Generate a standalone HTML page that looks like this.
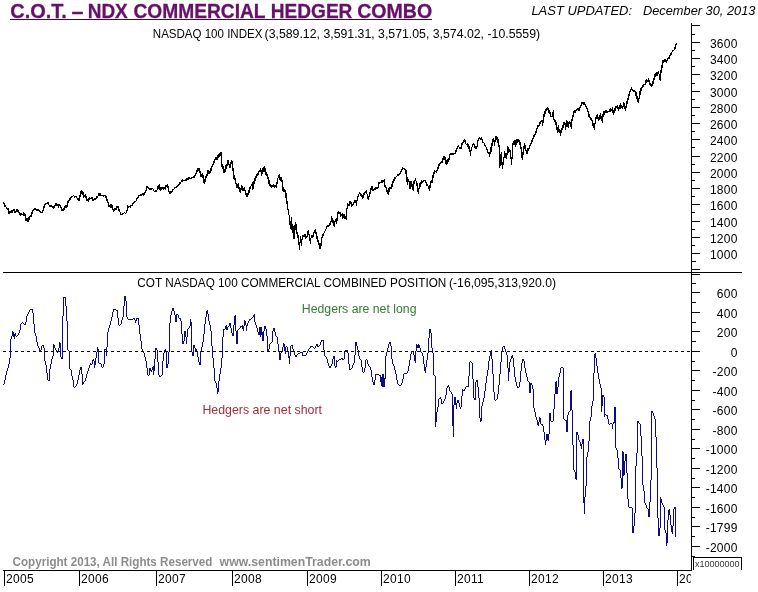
<!DOCTYPE html>
<html><head><meta charset="utf-8"><title>C.O.T. – NDX Commercial Hedger Combo</title>
<style>html,body{margin:0;padding:0;background:#fff;} body{width:758px;height:592px;overflow:hidden;} svg{display:block;}</style>
</head><body>
<svg width="758" height="592" viewBox="0 0 758 592"><rect x="0" y="0" width="758" height="592" fill="#ffffff"/>
<text x="10.3" y="17.6" font-family="Liberation Sans, Arial, sans-serif" font-size="19.6" font-weight="bold" fill="#67106a" stroke="#67106a" stroke-width="0.3" lengthAdjust="spacingAndGlyphs" textLength="56.5">C.O.T.</text>
<text x="71.5" y="17.6" font-family="Liberation Sans, Arial, sans-serif" font-size="19.6" font-weight="bold" fill="#67106a" stroke="#67106a" stroke-width="0.3" lengthAdjust="spacingAndGlyphs" textLength="12.0">–</text>
<text x="87.7" y="17.6" font-family="Liberation Sans, Arial, sans-serif" font-size="19.6" font-weight="bold" fill="#67106a" stroke="#67106a" stroke-width="0.3" lengthAdjust="spacingAndGlyphs" textLength="40.1">NDX</text>
<text x="133.4" y="17.6" font-family="Liberation Sans, Arial, sans-serif" font-size="19.6" font-weight="bold" fill="#67106a" stroke="#67106a" stroke-width="0.3" lengthAdjust="spacingAndGlyphs" textLength="132.2">COMMERCIAL</text>
<text x="270.8" y="17.6" font-family="Liberation Sans, Arial, sans-serif" font-size="19.6" font-weight="bold" fill="#67106a" stroke="#67106a" stroke-width="0.3" lengthAdjust="spacingAndGlyphs" textLength="81.6">HEDGER</text>
<text x="357.2" y="17.6" font-family="Liberation Sans, Arial, sans-serif" font-size="19.6" font-weight="bold" fill="#67106a" stroke="#67106a" stroke-width="0.3" lengthAdjust="spacingAndGlyphs" textLength="75.0">COMBO</text>
<rect x="10" y="19" width="422" height="1" fill="#3e0a3e"/>
<text x="531.4" y="15.4" font-family="Liberation Sans, Arial, sans-serif" font-size="13" font-style="italic" fill="#000" textLength="100.6" lengthAdjust="spacingAndGlyphs">LAST UPDATED:</text>
<text x="643.0" y="15.4" font-family="Liberation Sans, Arial, sans-serif" font-size="13" font-style="italic" fill="#000" textLength="112.4" lengthAdjust="spacingAndGlyphs">December 30, 2013</text>
<text x="152.8" y="37.7" font-family="Liberation Sans, Arial, sans-serif" font-size="12" fill="#000" textLength="109.6" lengthAdjust="spacingAndGlyphs">NASDAQ 100 INDEX</text>
<text x="264.6" y="37.7" font-family="Liberation Sans, Arial, sans-serif" font-size="12" fill="#000" textLength="275.5" lengthAdjust="spacingAndGlyphs">(3,589.12, 3,591.31, 3,571.05, 3,574.02, -10.5559)</text>
<g stroke="#000" stroke-width="1" shape-rendering="crispEdges"><line x1="691.5" y1="23" x2="691.5" y2="571" /><line x1="3" y1="272.5" x2="742" y2="272.5" /><line x1="3" y1="570.5" x2="692" y2="570.5" /><line x1="691" y1="25.5" x2="700" y2="25.5" /><line x1="691" y1="34.5" x2="695" y2="34.5" /><line x1="691" y1="42.5" x2="700" y2="42.5" /><line x1="691" y1="50.5" x2="695" y2="50.5" /><line x1="691" y1="58.5" x2="700" y2="58.5" /><line x1="691" y1="66.5" x2="695" y2="66.5" /><line x1="691" y1="74.5" x2="700" y2="74.5" /><line x1="691" y1="83.5" x2="695" y2="83.5" /><line x1="691" y1="91.5" x2="700" y2="91.5" /><line x1="691" y1="99.5" x2="695" y2="99.5" /><line x1="691" y1="107.5" x2="700" y2="107.5" /><line x1="691" y1="115.5" x2="695" y2="115.5" /><line x1="691" y1="123.5" x2="700" y2="123.5" /><line x1="691" y1="131.5" x2="695" y2="131.5" /><line x1="691" y1="139.5" x2="700" y2="139.5" /><line x1="691" y1="147.5" x2="695" y2="147.5" /><line x1="691" y1="156.5" x2="700" y2="156.5" /><line x1="691" y1="164.5" x2="695" y2="164.5" /><line x1="691" y1="172.5" x2="700" y2="172.5" /><line x1="691" y1="180.5" x2="695" y2="180.5" /><line x1="691" y1="188.5" x2="700" y2="188.5" /><line x1="691" y1="196.5" x2="695" y2="196.5" /><line x1="691" y1="204.5" x2="700" y2="204.5" /><line x1="691" y1="212.5" x2="695" y2="212.5" /><line x1="691" y1="221.5" x2="700" y2="221.5" /><line x1="691" y1="229.5" x2="695" y2="229.5" /><line x1="691" y1="237.5" x2="700" y2="237.5" /><line x1="691" y1="245.5" x2="695" y2="245.5" /><line x1="691" y1="253.5" x2="700" y2="253.5" /><line x1="691" y1="261.5" x2="696" y2="261.5" /><line x1="691" y1="269.5" x2="700" y2="269.5" /><line x1="691" y1="274.5" x2="700" y2="274.5" /><line x1="691" y1="283.5" x2="696" y2="283.5" /><line x1="691" y1="292.5" x2="700" y2="292.5" /><line x1="691" y1="302.5" x2="696" y2="302.5" /><line x1="691" y1="312.5" x2="700" y2="312.5" /><line x1="691" y1="322.5" x2="696" y2="322.5" /><line x1="691" y1="331.5" x2="700" y2="331.5" /><line x1="691" y1="341.5" x2="696" y2="341.5" /><line x1="691" y1="351.5" x2="700" y2="351.5" /><line x1="691" y1="361.5" x2="695" y2="361.5" /><line x1="691" y1="370.5" x2="700" y2="370.5" /><line x1="691" y1="380.5" x2="695" y2="380.5" /><line x1="691" y1="390.5" x2="700" y2="390.5" /><line x1="691" y1="400.5" x2="695" y2="400.5" /><line x1="691" y1="409.5" x2="700" y2="409.5" /><line x1="691" y1="419.5" x2="695" y2="419.5" /><line x1="691" y1="429.5" x2="700" y2="429.5" /><line x1="691" y1="439.5" x2="695" y2="439.5" /><line x1="691" y1="448.5" x2="700" y2="448.5" /><line x1="691" y1="458.5" x2="695" y2="458.5" /><line x1="691" y1="468.5" x2="700" y2="468.5" /><line x1="691" y1="478.5" x2="695" y2="478.5" /><line x1="691" y1="487.5" x2="700" y2="487.5" /><line x1="691" y1="497.5" x2="695" y2="497.5" /><line x1="691" y1="507.5" x2="700" y2="507.5" /><line x1="691" y1="517.5" x2="695" y2="517.5" /><line x1="691" y1="526.5" x2="700" y2="526.5" /><line x1="691" y1="536.5" x2="695" y2="536.5" /><line x1="691" y1="546.5" x2="700" y2="546.5" /><line x1="691" y1="556.5" x2="695" y2="556.5" /><line x1="4.5" y1="570" x2="4.5" y2="586" /><line x1="79.5" y1="570" x2="79.5" y2="586" /><line x1="156.5" y1="570" x2="156.5" y2="586" /><line x1="232.5" y1="570" x2="232.5" y2="586" /><line x1="307.5" y1="570" x2="307.5" y2="586" /><line x1="381.5" y1="570" x2="381.5" y2="586" /><line x1="455.5" y1="570" x2="455.5" y2="586" /><line x1="529.5" y1="570" x2="529.5" y2="586" /><line x1="603.5" y1="570" x2="603.5" y2="586" /><line x1="677.5" y1="570" x2="677.5" y2="586" /><polyline points="693.5,570 693.5,557.5 741.5,557.5 741.5,570" fill="none"/></g>
<g font-family="Liberation Sans, Arial, sans-serif" font-size="12" fill="#000" text-anchor="end" letter-spacing="0.25"><text x="737.6" y="47.8">3600</text><text x="737.6" y="63.8">3400</text><text x="737.6" y="79.8">3200</text><text x="737.6" y="96.8">3000</text><text x="737.6" y="112.8">2800</text><text x="737.6" y="128.8">2600</text><text x="737.6" y="144.8">2400</text><text x="737.6" y="161.8">2200</text><text x="737.6" y="177.8">2000</text><text x="737.6" y="193.8">1800</text><text x="737.6" y="209.8">1600</text><text x="737.6" y="226.8">1400</text><text x="737.6" y="242.8">1200</text><text x="737.6" y="258.8">1000</text><text x="737.6" y="297.8">600</text><text x="737.6" y="317.8">400</text><text x="737.6" y="336.8">200</text><text x="737.6" y="356.8">0</text><text x="737.6" y="375.8">-200</text><text x="737.6" y="395.8">-400</text><text x="737.6" y="414.8">-600</text><text x="737.6" y="434.8">-800</text><text x="737.6" y="453.8">-1000</text><text x="737.6" y="473.8">-1200</text><text x="737.6" y="492.8">-1400</text><text x="737.6" y="512.8">-1600</text><text x="737.6" y="531.8">-1799</text><text x="737.6" y="551.8">-2000</text></g>
<svg x="0" y="560" width="691" height="32" overflow="hidden"><g transform="translate(0,-560)" font-family="Liberation Sans, Arial, sans-serif" font-size="12" fill="#000" letter-spacing="0.33"><text x="5.9" y="582.8">2005</text><text x="80.9" y="582.8">2006</text><text x="157.9" y="582.8">2007</text><text x="233.9" y="582.8">2008</text><text x="308.9" y="582.8">2009</text><text x="382.9" y="582.8">2010</text><text x="456.9" y="582.8">2011</text><text x="530.9" y="582.8">2012</text><text x="604.9" y="582.8">2013</text><text x="678.9" y="582.8">2014</text></g></svg>
<text x="695" y="566.5" font-family="Liberation Sans, Arial, sans-serif" font-size="9" fill="#333">x10000000</text>
<text x="137.3" y="287" font-family="Liberation Sans, Arial, sans-serif" font-size="12" fill="#000" textLength="309.0" lengthAdjust="spacingAndGlyphs">COT NASDAQ 100 COMMERCIAL COMBINED POSITION</text>
<text x="449.0" y="287" font-family="Liberation Sans, Arial, sans-serif" font-size="12" fill="#000" textLength="107.0" lengthAdjust="spacingAndGlyphs">(-16,095,313,920.0)</text>
<text x="301.8" y="312.6" font-family="Liberation Sans, Arial, sans-serif" font-size="12" fill="#337a37" textLength="114.7" lengthAdjust="spacingAndGlyphs">Hedgers are net long</text>
<text x="202.4" y="413.9" font-family="Liberation Sans, Arial, sans-serif" font-size="12" fill="#a32c38" textLength="119.6" lengthAdjust="spacingAndGlyphs">Hedgers are net short</text>
<text x="12.6" y="565.8" font-family="Liberation Sans, Arial, sans-serif" font-size="12" font-weight="bold" fill="#8c8c8c" textLength="199.8" lengthAdjust="spacingAndGlyphs">Copyright 2013, All Rights Reserved</text>
<text x="219.6" y="565.8" font-family="Liberation Sans, Arial, sans-serif" font-size="12" font-weight="bold" fill="#8c8c8c" textLength="151.2" lengthAdjust="spacingAndGlyphs">www.sentimenTrader.com</text>
<line x1="3" y1="351.5" x2="691" y2="351.5" stroke="#000" stroke-width="1" stroke-dasharray="3,3" shape-rendering="crispEdges"/>
<path d="M3.5,202V204M4.5,203V207M5.5,205V207M6.5,207V209M7.5,208V210M8.5,208V214M9.5,211V214M10.5,211V213M11.5,210V213M12.5,210V213M13.5,209V211M14.5,209V213M15.5,211V213M16.5,209V212M17.5,209V212M18.5,210V213M19.5,212V215M20.5,213V216M21.5,213V215M22.5,214V215M23.5,212V216M24.5,213V216M25.5,214V221M26.5,218V221M27.5,218V222M28.5,217V222M29.5,216V220M30.5,215V217M31.5,212V217M32.5,210V214M33.5,209V211M34.5,208V210M35.5,208V210M36.5,209V211M37.5,209V211M38.5,209V211M39.5,210V212M40.5,211V213M41.5,212V213M42.5,210V213M43.5,206V211M44.5,204V208M45.5,203V205M46.5,203V204M47.5,202V204M48.5,202V205M49.5,205V207M50.5,205V207M51.5,205V207M52.5,206V208M53.5,206V209M54.5,205V208M55.5,203V206M56.5,203V206M57.5,204V206M58.5,204V208M59.5,204V206M60.5,205V208M61.5,207V211M62.5,209V211M63.5,208V211M64.5,206V210M65.5,205V208M66.5,205V208M67.5,201V207M68.5,200V203M69.5,198V201M70.5,197V200M71.5,196V198M72.5,196V197M73.5,195V196M74.5,196V198M75.5,196V197M76.5,196V198M77.5,198V200M78.5,198V201M79.5,195V201M80.5,191V197M81.5,190V194M82.5,191V195M83.5,192V198M84.5,195V197M85.5,194V198M86.5,196V201M87.5,199V201M88.5,198V202M89.5,197V200M90.5,198V199M91.5,197V199M92.5,197V201M93.5,199V201M94.5,198V200M95.5,198V200M96.5,196V199M97.5,196V198M98.5,193V196M99.5,193V196M100.5,193V196M101.5,195V196M102.5,195V196M103.5,195V197M104.5,195V196M105.5,195V198M106.5,196V201M107.5,199V203M108.5,202V207M109.5,205V207M110.5,204V208M111.5,204V208M112.5,205V210M113.5,209V212M114.5,208V211M115.5,208V210M116.5,206V210M117.5,206V208M118.5,206V211M119.5,209V212M120.5,212V215M121.5,214V215M122.5,213V215M123.5,213V214M124.5,212V213M125.5,213V214M126.5,210V213M127.5,205V211M128.5,206V208M129.5,206V207M130.5,205V208M131.5,205V206M132.5,203V206M133.5,202V204M134.5,201V203M135.5,201V202M136.5,198V201M137.5,197V199M138.5,195V198M139.5,195V196M140.5,194V196M141.5,194V196M142.5,193V195M143.5,193V196M144.5,192V195M145.5,190V193M146.5,186V191M147.5,186V188M148.5,187V189M149.5,188V190M150.5,188V190M151.5,188V190M152.5,188V189M153.5,189V191M154.5,191V192M155.5,190V192M156.5,190V192M157.5,186V190M158.5,185V189M159.5,184V190M160.5,187V191M161.5,187V190M162.5,187V189M163.5,187V190M164.5,187V189M165.5,185V190M166.5,185V187M167.5,184V188M168.5,186V192M169.5,191V194M170.5,191V194M171.5,191V193M172.5,189V192M173.5,189V190M174.5,187V189M175.5,187V188M176.5,186V188M177.5,185V187M178.5,184V186M179.5,182V185M180.5,182V184M181.5,180V182M182.5,179V182M183.5,180V181M184.5,180V181M185.5,179V181M186.5,178V181M187.5,178V180M188.5,177V180M189.5,177V179M190.5,178V179M191.5,177V179M192.5,177V178M193.5,176V178M194.5,175V178M195.5,173V176M196.5,170V174M197.5,168V172M198.5,168V171M199.5,168V173M200.5,171V177M201.5,174V177M202.5,173V178M203.5,175V183M204.5,179V184M205.5,176V182M206.5,174V178M207.5,170V176M208.5,170V174M209.5,171V174M210.5,168V173M211.5,166V171M212.5,164V167M213.5,161V165M214.5,159V163M215.5,157V160M216.5,157V160M217.5,155V160M218.5,154V158M219.5,153V157M220.5,152V156M221.5,152V167M222.5,164V169M223.5,166V173M224.5,169V173M225.5,165V172M226.5,164V169M227.5,160V166M228.5,160V165M229.5,164V168M230.5,162V168M231.5,160V164M232.5,161V171M233.5,168V179M234.5,175V180M235.5,178V184M236.5,183V188M237.5,184V188M238.5,183V189M239.5,187V192M240.5,188V193M241.5,185V190M242.5,186V191M243.5,188V191M244.5,187V191M245.5,190V195M246.5,193V197M247.5,193V197M248.5,190V195M249.5,187V193M250.5,186V189M251.5,184V186M252.5,182V190M253.5,181V189M254.5,178V184M255.5,176V181M256.5,174V178M257.5,173V176M258.5,171V175M259.5,170V172M260.5,168V172M261.5,170V176M262.5,168V174M263.5,167V172M264.5,166V172M265.5,168V175M266.5,172V176M267.5,174V179M268.5,177V184M269.5,180V186M270.5,184V187M271.5,185V188M272.5,185V187M273.5,184V187M274.5,185V188M275.5,185V187M276.5,182V188M277.5,178V184M278.5,175V178M279.5,174V180M280.5,177V181M281.5,177V182M282.5,180V191M283.5,187V192M284.5,189V192M285.5,190V198M286.5,193V204M287.5,201V210M288.5,209V215M289.5,215V225M290.5,221V229M291.5,217V230M292.5,224V233M293.5,226V239M294.5,225V239M295.5,222V230M296.5,224V234M297.5,232V238M298.5,235V245M299.5,242V250M300.5,236V243M301.5,239V246M302.5,235V240M303.5,235V237M304.5,234V237M305.5,234V239M306.5,236V238M307.5,231V237M308.5,230V235M309.5,234V241M310.5,238V244M311.5,235V238M312.5,235V238M313.5,232V237M314.5,230V233M315.5,229V234M316.5,232V239M317.5,236V242M318.5,240V245M319.5,243V249M320.5,243V249M321.5,237V246M322.5,234V238M323.5,233V236M324.5,231V233M325.5,229V231M326.5,226V229M327.5,225V227M328.5,225V227M329.5,223V226M330.5,221V225M331.5,216V222M332.5,218V223M333.5,220V226M334.5,221V227M335.5,219V222M336.5,218V224M337.5,212V221M338.5,211V214M339.5,212V214M340.5,212V217M341.5,214V216M342.5,213V219M343.5,214V218M344.5,214V219M345.5,216V219M346.5,208V220M347.5,203V209M348.5,204V206M349.5,201V206M350.5,201V204M351.5,202V207M352.5,204V206M353.5,202V205M354.5,200V203M355.5,200V203M356.5,200V206M357.5,196V201M358.5,194V197M359.5,192V194M360.5,193V196M361.5,194V197M362.5,195V199M363.5,193V198M364.5,192V195M365.5,191V193M366.5,190V194M367.5,194V199M368.5,196V200M369.5,192V197M370.5,188V194M371.5,186V190M372.5,186V191M373.5,189V191M374.5,188V190M375.5,187V190M376.5,187V189M377.5,187V189M378.5,182V188M379.5,182V184M380.5,182V183M381.5,180V183M382.5,180V183M383.5,180V182M384.5,179V187M385.5,185V188M386.5,187V192M387.5,190V194M388.5,188V195M389.5,187V192M390.5,187V189M391.5,184V189M392.5,181V187M393.5,179V183M394.5,177V181M395.5,177V179M396.5,176V177M397.5,174V176M398.5,174V176M399.5,173V175M400.5,171V174M401.5,169V172M402.5,167V170M403.5,168V169M404.5,168V170M405.5,169V174M406.5,170V182M407.5,177V185M408.5,179V182M409.5,181V189M410.5,181V189M411.5,181V187M412.5,184V190M413.5,181V191M414.5,180V184M415.5,178V181M416.5,181V186M417.5,183V192M418.5,188V194M419.5,183V189M420.5,182V187M421.5,180V184M422.5,181V183M423.5,180V182M424.5,180V181M425.5,180V183M426.5,182V186M427.5,184V186M428.5,186V189M429.5,185V191M430.5,181V188M431.5,180V183M432.5,175V183M433.5,172V178M434.5,170V174M435.5,171V172M436.5,170V173M437.5,167V171M438.5,164V169M439.5,163V166M440.5,162V164M441.5,161V163M442.5,158V163M443.5,156V160M444.5,156V160M445.5,157V164M446.5,160V165M447.5,159V164M448.5,158V162M449.5,154V160M450.5,153V155M451.5,153V155M452.5,153V155M453.5,153V155M454.5,153V154M455.5,150V154M456.5,148V152M457.5,146V149M458.5,145V147M459.5,147V149M460.5,147V149M461.5,143V149M462.5,142V145M463.5,140V143M464.5,139V142M465.5,140V144M466.5,144V145M467.5,143V147M468.5,144V149M469.5,146V152M470.5,150V156M471.5,147V151M472.5,144V147M473.5,143V145M474.5,144V148M475.5,146V149M476.5,146V149M477.5,140V147M478.5,138V141M479.5,137V139M480.5,138V140M481.5,137V140M482.5,139V143M483.5,142V143M484.5,143V146M485.5,145V147M486.5,147V150M487.5,149V153M488.5,152V154M489.5,152V157M490.5,147V154M491.5,143V152M492.5,139V146M493.5,138V142M494.5,140V146M495.5,136V142M496.5,136V140M497.5,137V143M498.5,139V147M499.5,145V168M500.5,154V166M501.5,152V165M502.5,162V169M503.5,157V165M504.5,151V158M505.5,153V158M506.5,153V159M507.5,146V155M508.5,147V153M509.5,149V152M510.5,150V159M511.5,157V165M512.5,143V159M513.5,141V145M514.5,140V145M515.5,140V147M516.5,139V145M517.5,139V143M518.5,139V142M519.5,140V145M520.5,142V149M521.5,147V158M522.5,152V160M523.5,146V155M524.5,143V149M525.5,145V151M526.5,150V154M527.5,148V154M528.5,148V151M529.5,145V149M530.5,143V146M531.5,140V144M532.5,138V142M533.5,135V139M534.5,134V137M535.5,131V135M536.5,128V133M537.5,125V129M538.5,125V127M539.5,122V126M540.5,121V124M541.5,120V122M542.5,120V126M543.5,114V123M544.5,111V117M545.5,109V114M546.5,108V111M547.5,107V110M548.5,108V113M549.5,110V114M550.5,112V117M551.5,116V117M552.5,112V117M553.5,110V120M554.5,119V122M555.5,120V125M556.5,122V130M557.5,127V133M558.5,125V132M559.5,129V133M560.5,130V136M561.5,128V133M562.5,125V130M563.5,122V128M564.5,122V125M565.5,123V130M566.5,120V127M567.5,121V127M568.5,122V128M569.5,121V124M570.5,122V127M571.5,119V129M572.5,115V121M573.5,111V117M574.5,110V113M575.5,110V113M576.5,109V111M577.5,108V110M578.5,108V111M579.5,107V111M580.5,105V108M581.5,102V106M582.5,102V104M583.5,102V105M584.5,102V105M585.5,104V107M586.5,106V109M587.5,108V112M588.5,111V117M589.5,114V118M590.5,117V120M591.5,118V121M592.5,120V126M593.5,123V128M594.5,123V130M595.5,117V124M596.5,115V119M597.5,114V119M598.5,117V121M599.5,115V120M600.5,113V119M601.5,116V121M602.5,114V123M603.5,111V117M604.5,111V115M605.5,110V113M606.5,110V113M607.5,111V113M608.5,111V112M609.5,109V112M610.5,108V112M611.5,109V111M612.5,107V113M613.5,110V115M614.5,108V113M615.5,106V111M616.5,106V108M617.5,105V109M618.5,107V111M619.5,105V109M620.5,103V109M621.5,105V108M622.5,106V109M623.5,102V107M624.5,103V109M625.5,106V111M626.5,101V108M627.5,98V104M628.5,94V100M629.5,91V96M630.5,89V92M631.5,87V90M632.5,89V91M633.5,90V92M634.5,90V92M635.5,91V96M636.5,92V99M637.5,96V102M638.5,98V103M639.5,91V99M640.5,88V95M641.5,87V91M642.5,85V88M643.5,84V87M644.5,84V85M645.5,80V85M646.5,79V83M647.5,80V82M648.5,78V82M649.5,80V85M650.5,83V86M651.5,84V87M652.5,81V86M653.5,78V84M654.5,74V80M655.5,73V77M656.5,72V76M657.5,72V76M658.5,71V74M659.5,74V80M660.5,70V81M661.5,65V73M662.5,60V68M663.5,60V63M664.5,59V62M665.5,59V62M666.5,60V63M667.5,58V61M668.5,57V59M669.5,55V59M670.5,53V56M671.5,52V55M672.5,50V52M673.5,50V51M674.5,47V50M675.5,44V49M676.5,43V45" fill="none" stroke="#000" stroke-width="1" shape-rendering="crispEdges"/>
<path d="M3.5,384V385M4.5,380V384M5.5,375V380M6.5,371V375M7.5,368V371M8.5,364V368M9.5,358V364M10.5,339V358M11.5,336V339M12.5,331V336M13.5,332V337M14.5,334V339M15.5,333V336M16.5,336V337M17.5,335V336M18.5,333V335M19.5,330V333M20.5,324V330M21.5,323V324M22.5,322V323M23.5,323V324M24.5,324V325M25.5,322V325M26.5,316V322M27.5,314V316M28.5,312V314M29.5,310V312M30.5,309V310M31.5,309V310M32.5,309V313M33.5,313V324M34.5,324V333M35.5,333V336M36.5,336V342M37.5,342V346M38.5,346V348M39.5,348V352M40.5,350V352M41.5,346V350M42.5,345V346M43.5,345V348M44.5,348V361M45.5,361V365M46.5,365V373M47.5,373V380M48.5,380V381M49.5,369V381M50.5,364V369M51.5,359V364M52.5,356V359M53.5,344V356M54.5,345V348M55.5,348V350M56.5,350V352M57.5,352V353M58.5,348V352M59.5,342V348M60.5,343V357M61.5,357V359M62.5,316V359M63.5,297V316M64.5,297V298M65.5,297V306M66.5,306V321M67.5,321V350M68.5,350V351M69.5,351V369M70.5,369V370M71.5,370V376M72.5,376V380M73.5,380V387M74.5,387V388M75.5,386V387M76.5,384V386M77.5,380V384M78.5,375V380M79.5,370V375M80.5,367V370M81.5,367V374M82.5,374V385M83.5,382V384M84.5,381V382M85.5,378V381M86.5,374V378M87.5,371V374M88.5,368V371M89.5,365V368M90.5,363V365M91.5,364V365M92.5,360V364M93.5,359V361M94.5,361V368M95.5,358V365M96.5,352V358M97.5,347V352M98.5,349V363M99.5,363V364M100.5,363V364M101.5,364V367M102.5,367V368M103.5,364V367M104.5,349V364M105.5,349V350M106.5,347V356M107.5,332V347M108.5,328V332M109.5,325V328M110.5,321V325M111.5,317V321M112.5,312V317M113.5,309V312M114.5,309V310M115.5,309V310M116.5,310V311M117.5,310V318M118.5,318V325M119.5,325V326M120.5,324V325M121.5,320V324M122.5,317V320M123.5,306V317M124.5,296V306M125.5,296V301M126.5,301V317M127.5,317V319M128.5,319V320M129.5,319V320M130.5,319V320M131.5,319V320M132.5,319V320M133.5,318V319M134.5,318V320M135.5,320V323M136.5,318V321M137.5,318V319M138.5,318V325M139.5,325V334M140.5,334V341M141.5,341V349M142.5,349V351M143.5,351V353M144.5,353V357M145.5,357V361M146.5,361V368M147.5,368V375M148.5,375V376M149.5,368V375M150.5,368V371M151.5,370V372M152.5,367V370M153.5,366V375M154.5,359V371M155.5,348V359M156.5,348V350M157.5,350V362M158.5,362V375M159.5,375V377M160.5,376V377M161.5,375V376M162.5,361V375M163.5,353V361M164.5,350V353M165.5,349V351M166.5,351V368M167.5,364V368M168.5,352V364M169.5,323V352M170.5,315V323M171.5,311V315M172.5,308V311M173.5,308V311M174.5,311V315M175.5,315V322M176.5,314V322M177.5,314V315M178.5,315V318M179.5,318V319M180.5,318V321M181.5,321V334M182.5,334V344M183.5,341V344M184.5,331V341M185.5,331V337M186.5,337V344M187.5,329V337M188.5,328V329M189.5,326V328M190.5,319V326M191.5,322V352M192.5,352V356M193.5,345V356M194.5,345V348M195.5,348V351M196.5,349V351M197.5,351V357M198.5,357V362M199.5,362V365M200.5,351V365M201.5,347V351M202.5,342V347M203.5,334V342M204.5,324V334M205.5,317V324M206.5,311V317M207.5,310V314M208.5,314V321M209.5,321V325M210.5,325V331M211.5,331V346M212.5,346V358M213.5,358V368M214.5,368V381M215.5,381V383M216.5,383V388M217.5,388V394M218.5,381V392M219.5,374V381M220.5,368V374M221.5,358V368M222.5,337V358M223.5,329V337M224.5,329V330M225.5,326V329M226.5,325V330M227.5,327V330M228.5,326V327M229.5,323V326M230.5,323V328M231.5,328V333M232.5,333V336M233.5,325V336M234.5,316V325M235.5,315V331M236.5,331V344M237.5,330V344M238.5,329V330M239.5,328V329M240.5,326V328M241.5,326V327M242.5,325V329M243.5,326V331M244.5,320V326M245.5,321V325M246.5,325V331M247.5,323V326M248.5,321V323M249.5,319V321M250.5,319V320M251.5,318V319M252.5,317V318M253.5,315V317M254.5,314V322M255.5,322V325M256.5,325V328M257.5,328V332M258.5,332V335M259.5,327V335M260.5,327V337M261.5,327V335M262.5,332V341M263.5,331V341M264.5,326V331M265.5,326V329M266.5,329V336M267.5,336V351M268.5,349V351M269.5,344V349M270.5,343V344M271.5,342V343M272.5,331V342M273.5,328V331M274.5,328V332M275.5,332V336M276.5,336V337M277.5,337V344M278.5,344V352M279.5,352V360M280.5,353V360M281.5,352V353M282.5,347V352M283.5,343V347M284.5,344V351M285.5,347V354M286.5,346V347M287.5,347V351M288.5,351V358M289.5,356V364M290.5,346V356M291.5,345V346M292.5,345V349M293.5,349V351M294.5,351V355M295.5,355V357M296.5,355V357M297.5,354V355M298.5,353V354M299.5,353V354M300.5,352V353M301.5,352V353M302.5,352V356M303.5,355V356M304.5,355V356M305.5,355V356M306.5,353V355M307.5,351V353M308.5,349V351M309.5,348V349M310.5,346V348M311.5,346V347M312.5,346V347M313.5,347V348M314.5,348V349M315.5,346V348M316.5,344V346M317.5,344V347M318.5,346V347M319.5,345V346M320.5,342V345M321.5,340V342M322.5,340V341M323.5,340V350M324.5,350V356M325.5,356V357M326.5,357V359M327.5,359V363M328.5,363V366M329.5,366V368M330.5,366V368M331.5,364V366M332.5,359V364M333.5,356V359M334.5,356V366M335.5,366V368M336.5,360V367M337.5,361V362M338.5,360V361M339.5,359V360M340.5,359V360M341.5,358V359M342.5,358V360M343.5,359V360M344.5,351V359M345.5,350V351M346.5,350V351M347.5,350V353M348.5,353V364M349.5,364V370M350.5,369V370M351.5,368V369M352.5,365V368M353.5,363V365M354.5,355V363M355.5,342V355M356.5,342V346M357.5,346V350M358.5,350V356M359.5,356V359M360.5,359V360M361.5,360V367M362.5,367V372M363.5,372V373M364.5,368V372M365.5,360V368M366.5,359V360M367.5,360V364M368.5,364V366M369.5,366V367M370.5,367V370M371.5,370V377M372.5,377V382M373.5,382V385M374.5,380V385M375.5,374V380M376.5,374V375M377.5,374V375M378.5,374V375M379.5,375V376M380.5,375V382M381.5,377V386M382.5,374V387M383.5,374V387M384.5,378V387M385.5,356V379M386.5,352V356M387.5,348V352M388.5,344V348M389.5,342V344M390.5,342V346M391.5,346V359M392.5,359V364M393.5,364V366M394.5,366V370M395.5,370V374M396.5,374V380M397.5,380V384M398.5,384V385M399.5,385V386M400.5,385V386M401.5,383V385M402.5,379V383M403.5,374V379M404.5,373V374M405.5,373V374M406.5,373V374M407.5,371V373M408.5,366V371M409.5,360V366M410.5,354V360M411.5,351V354M412.5,351V352M413.5,352V355M414.5,355V361M415.5,351V363M416.5,344V351M417.5,345V348M418.5,344V348M419.5,345V348M420.5,348V352M421.5,352V353M422.5,353V356M423.5,356V364M424.5,364V371M425.5,367V373M426.5,360V367M427.5,353V360M428.5,338V353M429.5,329V338M430.5,329V333M431.5,333V348M432.5,348V353M433.5,353V375M434.5,375V376M435.5,376V427M436.5,412V422M437.5,407V412M438.5,399V407M439.5,398V399M440.5,397V399M441.5,399V404M442.5,403V404M443.5,401V403M444.5,399V401M445.5,395V399M446.5,388V395M447.5,386V388M448.5,385V387M449.5,387V391M450.5,391V392M451.5,392V394M452.5,394V426M453.5,405V437M454.5,397V405M455.5,397V405M456.5,403V409M457.5,400V403M458.5,400V403M459.5,403V407M460.5,407V409M461.5,396V407M462.5,389V396M463.5,390V391M464.5,389V391M465.5,387V389M466.5,386V387M467.5,386V387M468.5,376V387M469.5,362V376M470.5,361V362M471.5,362V363M472.5,363V379M473.5,379V398M474.5,398V400M475.5,382V400M476.5,380V382M477.5,380V387M478.5,387V398M479.5,398V418M480.5,418V422M481.5,406V421M482.5,402V406M483.5,398V402M484.5,391V398M485.5,383V391M486.5,376V383M487.5,370V376M488.5,361V370M489.5,356V361M490.5,352V356M491.5,350V359M492.5,359V374M493.5,374V392M494.5,392V400M495.5,400V401M496.5,399V400M497.5,394V399M498.5,385V394M499.5,374V385M500.5,362V374M501.5,352V362M502.5,347V352M503.5,346V347M504.5,346V349M505.5,349V352M506.5,352V355M507.5,355V368M508.5,368V381M509.5,362V372M510.5,359V362M511.5,356V359M512.5,355V358M513.5,358V367M514.5,367V377M515.5,377V382M516.5,382V386M517.5,386V388M518.5,387V388M519.5,382V387M520.5,371V382M521.5,363V371M522.5,359V363M523.5,359V361M524.5,361V368M525.5,368V373M526.5,373V377M527.5,377V381M528.5,381V382M529.5,382V393M530.5,383V393M531.5,383V385M532.5,385V389M533.5,389V408M534.5,408V412M535.5,412V417M536.5,417V420M537.5,420V425M538.5,422V426M539.5,417V422M540.5,418V424M541.5,424V425M542.5,424V426M543.5,426V432M544.5,432V440M545.5,440V445M546.5,434V441M547.5,434V440M548.5,434V441M549.5,413V434M550.5,413V421M551.5,421V422M552.5,421V422M553.5,409V421M554.5,394V409M555.5,382V394M556.5,381V394M557.5,387V394M558.5,377V387M559.5,373V377M560.5,368V373M561.5,367V368M562.5,367V368M563.5,368V419M564.5,419V420M565.5,420V421M566.5,420V432M567.5,415V432M568.5,412V415M569.5,411V412M570.5,391V411M571.5,390V410M572.5,410V445M573.5,445V470M574.5,470V472M575.5,472V479M576.5,432V480M577.5,432V435M578.5,435V440M579.5,440V442M580.5,442V446M581.5,444V449M582.5,439V444M583.5,439V503M584.5,497V514M585.5,486V497M586.5,457V486M587.5,452V457M588.5,441V452M589.5,421V441M590.5,417V421M591.5,406V417M592.5,401V406M593.5,373V401M594.5,354V373M595.5,353V358M596.5,358V366M597.5,366V373M598.5,373V379M599.5,379V384M600.5,384V388M601.5,388V412M602.5,395V406M603.5,395V397M604.5,397V417M605.5,414V415M606.5,415V416M607.5,415V419M608.5,419V424M609.5,424V425M610.5,423V424M611.5,423V424M612.5,424V429M613.5,422V424M614.5,407V423M615.5,407V448M616.5,448V450M617.5,450V458M618.5,458V469M619.5,469V470M620.5,470V478M621.5,478V489M622.5,451V488M623.5,452V476M624.5,461V475M625.5,454V461M626.5,454V473M627.5,473V499M628.5,499V507M629.5,507V508M630.5,507V508M631.5,507V508M632.5,508V533M633.5,526V533M634.5,513V526M635.5,466V513M636.5,453V466M637.5,421V453M638.5,421V423M639.5,423V424M640.5,424V436M641.5,436V456M642.5,456V485M643.5,485V491M644.5,491V503M645.5,503V505M646.5,505V508M647.5,508V509M648.5,509V517M649.5,502V517M650.5,480V502M651.5,411V480M652.5,411V413M653.5,413V416M654.5,416V419M655.5,419V437M656.5,437V468M657.5,468V518M658.5,518V536M659.5,528V536M660.5,497V528M661.5,499V503M662.5,503V505M663.5,505V507M664.5,507V530M665.5,530V533M666.5,533V546M667.5,520V543M668.5,510V520M669.5,509V515M670.5,515V525M671.5,525V532M672.5,526V534M673.5,509V526M674.5,507V509M675.5,507V537" fill="none" stroke="#0c0c80" stroke-width="1" shape-rendering="crispEdges"/></svg>
</body></html>
